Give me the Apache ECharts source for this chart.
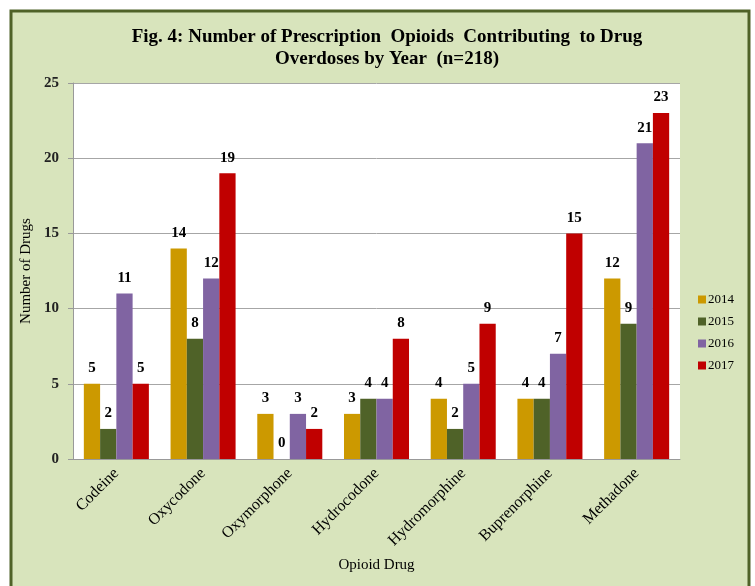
<!DOCTYPE html>
<html><head><meta charset="utf-8">
<script src="https://cdn.jsdelivr.net/npm/echarts@6/dist/echarts.min.js"></script>
<style>html,body{margin:0;padding:0;background:#fff}#c{width:755px;height:586px}</style>
</head><body><div id="c"></div>
<script>
const categories = ['Codeine','Oxycodone','Oxymorphone','Hydrocodone','Hydromorphine','Buprenorphine','Methadone'];
const years = ['2014','2015','2016','2017'];
const v2014 = [5,14,3,3,4,4,12];
const v2015 = [2,8,0,4,2,4,9];
const v2016 = [11,12,3,4,5,7,21];
const v2017 = [5,19,2,8,9,15,23];
const yTicks = [0,5,10,15,20,25];
const colors = ['#cc9900','#4f6228','#8064a2','#c00000'];
const serif = '"Liberation Serif","Times New Roman",serif';
const chart = echarts.init(document.getElementById('c'));
const data = [v2014,v2015,v2016,v2017];
chart.setOption({
  backgroundColor:'#fff',
  animation:false,
  graphic:[{type:'rect',z:-10,shape:{x:11,y:11,width:738,height:600},style:{fill:'#d8e4bc',stroke:'#4f6228',lineWidth:3}}],
  title:{text:'Fig. 4: Number of Prescription  Opioids  Contributing  to Drug\nOverdoses by Year  (n=218)',left:382,textAlign:'center',top:21,
    textStyle:{fontFamily:serif,fontWeight:'bold',fontSize:19,lineHeight:22,color:'#000'}},
  legend:{orient:'vertical',left:693,top:288,itemWidth:8,itemHeight:8,itemGap:9,icon:'rect',
    textStyle:{fontFamily:serif,fontSize:13,color:'#000',padding:[0,0,0,-3]},data:years},
  grid:{left:73,right:75,top:83,bottom:127,show:true,backgroundColor:'#fff',borderWidth:0},
  xAxis:{type:'category',data:categories,name:'Opioid Drug',nameLocation:'middle',nameGap:99,
    nameTextStyle:{fontFamily:serif,fontSize:15,color:'#000'},
    axisLine:{lineStyle:{color:'#999'}},axisTick:{show:false},
    axisLabel:{rotate:45,fontFamily:serif,fontSize:16,color:'#000',margin:12,interval:0}},
  yAxis:{type:'value',min:0,max:25,interval:5,name:'Number of Drugs',nameLocation:'middle',nameGap:37,
    nameTextStyle:{fontFamily:serif,fontSize:15,color:'#000'},
    axisLine:{show:true,lineStyle:{color:'#999'}},axisTick:{show:true,length:5,lineStyle:{color:'#999'}},
    splitLine:{lineStyle:{color:'#a6a6a6'}},
    axisLabel:{fontFamily:serif,fontSize:15,fontWeight:'bold',color:'#222',margin:14,customValues:yTicks}},
  series:years.map((y,i)=>({name:y,type:'bar',data:data[i],barGap:'0%',barCategoryGap:'25%',
    itemStyle:{color:colors[i]},
    label:{show:true,position:'top',distance:8,fontFamily:serif,fontWeight:'bold',fontSize:15,color:'#000'}}))
});
</script></body></html>
